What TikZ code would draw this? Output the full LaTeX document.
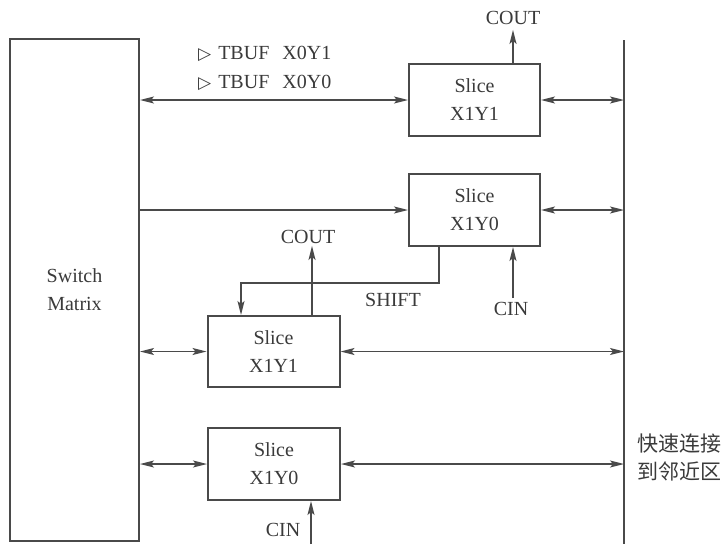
\documentclass[tikz,border=0pt]{standalone}
\usepackage{fontspec}
\setmainfont{Liberation Serif}
\newfontfamily\symfont{DejaVu Sans}
\newfontfamily\cjk{Noto Sans CJK SC}
\usetikzlibrary{arrows.meta}
\definecolor{ink}{HTML}{4A4A4A}
\definecolor{txt}{HTML}{3A3A3A}
\tikzset{
  blk/.style={draw=ink, line width=2pt, minimum width=131pt, minimum height=72pt, inner sep=0pt, align=center, text=txt, font=\fontsize{20}{28}\selectfont},
  lbl/.style={inner sep=1pt, text=txt, font=\fontsize{20}{23}\selectfont},
  tip/.tip={Stealth[length=14pt,width=7pt,inset=3pt]},
  arr/.style={draw=ink, line width=1.5pt, -tip},
  darr/.style={draw=ink, line width=1.5pt, tip-tip},
  bus/.style={draw=ink, line width=2pt}
}
\begin{document}
\begin{tikzpicture}[x=1pt,y=-1pt]
\useasboundingbox (0,0) rectangle (727,544);
% switch matrix
\node[blk, minimum width=129pt, minimum height=502pt] (sm) at (74.5,290) {Switch\\Matrix};
% right bus
\coordinate (bt) at (624,40);
\coordinate (bb) at (624,544);
\draw[bus] (bt) -- (bb);
% slices
\node[blk] (s11) at (474.5,100) {Slice\\X1Y1};
\node[blk] (s10) at (474.5,210) {Slice\\X1Y0};
\node[blk, minimum width=132pt, minimum height=71pt] (l11) at (273.5,351.5) {Slice\\X1Y1};
\node[blk, minimum width=132pt] (l10) at (274,464) {Slice\\X1Y0};
% TBUF labels
\node[lbl, anchor=west] (tb1) at (197,54) {{\symfont\fontsize{17}{20}\selectfont ▷}\hspace{7pt}TBUF\hspace{13pt}X0Y1};
\node[lbl, anchor=west] (tb0) at (197,83) {{\symfont\fontsize{17}{20}\selectfont ▷}\hspace{7pt}TBUF\hspace{13pt}X0Y0};
% horizontal connections
\draw[darr] (sm.east |- s11.west) -- (s11.west);
\draw[darr] (s11.east) -- (s11.east -| bt);
\draw[arr] (sm.east |- s10.west) -- (s10.west);
\draw[darr] (s10.east) -- (s10.east -| bt);
\draw[darr] (sm.east |- l11.west) -- (l11.west);
\draw[darr] (l11.east) -- (l11.east -| bt);
\draw[darr] (sm.east |- l10.west) -- (l10.west);
\draw[darr] (l10.east) -- (l10.east -| bt);
% COUT top
\node[lbl] (cout1) at (513,18) {COUT};
\draw[arr] (s11.north -| cout1) -- ([yshift=-4pt]cout1.south);
% CIN upper
\node[lbl] (cin1) at (511,309) {CIN};
\draw[arr] ([xshift=2pt,yshift=3pt]cin1.north) -- ([xshift=2pt]s10.south -| cin1);
% SHIFT
\coordinate (shA) at (439,283);
\coordinate (shB) at (241,283);
\draw[arr] (s10.south -| shA) -- (shA) -- (shB) -- (l11.north -| shB);
\node[lbl] (shift) at (393,300) {SHIFT};
% COUT middle
\node[lbl] (cout2) at (308,237) {COUT};
\coordinate (c2x) at (312,0);
\draw[arr] (l11.north -| c2x) -- ([yshift=-1pt]cout2.south -| c2x);
% CIN lower
\node[lbl] (cin2) at (283,530) {CIN};
\coordinate (c3) at (311,544);
\draw[arr] (c3) -- (l10.south -| c3);
% Chinese label
\node[inner sep=0pt, anchor=west, text=txt, align=left, font=\cjk\fontsize{21}{28}\selectfont] (fast) at (637,457) {快速连接\\到邻近区};
\end{tikzpicture}
\end{document}
